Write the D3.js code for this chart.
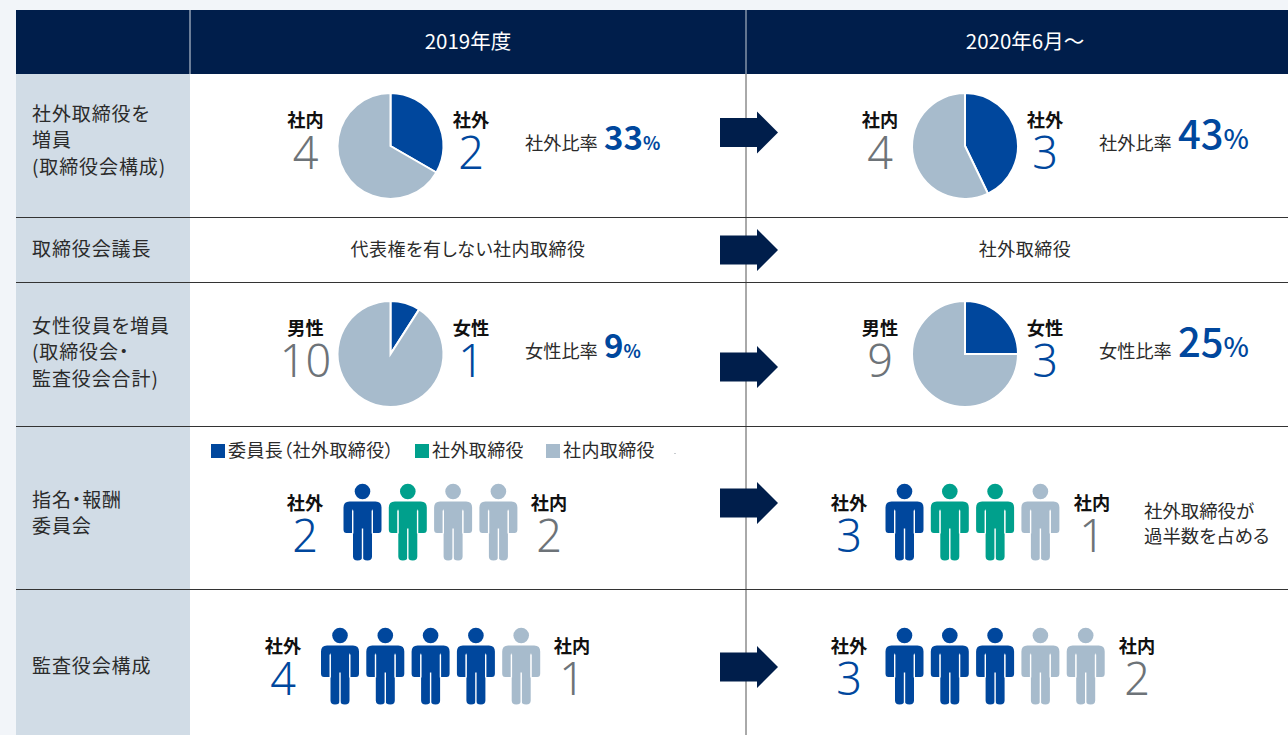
<!DOCTYPE html>
<html>
<head>
<meta charset="utf-8">
<script src="https://cdn.jsdelivr.net/npm/d3@7"></script>
<style>
html, body { margin: 0; padding: 0; background: #f2f5f9; overflow: hidden; }
svg { display: block; }
text { font-family: "Noto Sans CJK JP", "Noto Sans", sans-serif; font-feature-settings: "palt"; fill: #231815; }
.num { font-family: "Noto Sans", sans-serif; font-weight: 300; }
</style>
</head>
<body>
<svg id="chart" width="1288" height="735"></svg>
<script>
// data
const headers = ['2019年度', '2020年6月〜']
const rowLabels = [
    ['社外取締役を', '増員', '(取締役会構成)'],
    ['取締役会議長'],
    ['女性役員を増員', '(取締役会・', '監査役会合計)'],
    ['指名・報酬', '委員会'],
    ['監査役会構成']
]
const chairText = ['代表権を有しない社内取締役', '社外取締役']
const legendLabels = ['委員長（社外取締役）', '社外取締役', '社内取締役']
const boardLabels = ['社外', '社内']
const boardValues = [[2, 4], [3, 4]]
const boardRatio = ['33', '43']
const genderLabels = ['女性', '男性']
const genderValues = [[1, 10], [3, 9]]
const genderRatio = ['9', '25']
// c = chair, o = outside, i = inside
const nominating = [['c', 'o', 'i', 'i'], ['c', 'o', 'o', 'i']]
const nominatingCounts = [[2, 2], [3, 1]]
const audit = [['c', 'c', 'c', 'c', 'i'], ['c', 'c', 'c', 'i', 'i']]
const auditCounts = [[4, 1], [3, 2]]
const noteLines = ['社外取締役が', '過半数を占める']

const navy = '#001e4b', blue = '#00479d', pale = '#a7bbcc', teal = '#00a08c', grey = '#6d7378'
const personColor = { c: blue, o: teal, i: pale }

const svg = d3.select('#chart')

// table frame
const rowEdges = [74, 217, 282, 426, 589, 735]
svg.append('rect').attr('x', 16).attr('y', 74).attr('width', 1272).attr('height', 661).attr('fill', '#fff')
svg.append('rect').attr('x', 16).attr('y', 74).attr('width', 174).attr('height', 661).attr('fill', '#d1dce6')
svg.append('rect').attr('x', 16).attr('y', 10).attr('width', 1272).attr('height', 64).attr('fill', navy)
svg.append('line').attr('x1', 190).attr('x2', 190).attr('y1', 10).attr('y2', 74).attr('stroke', '#d8dee6').attr('stroke-width', 1)
svg.append('line').attr('x1', 746).attr('x2', 746).attr('y1', 10).attr('y2', 74).attr('stroke', '#c4ccd6').attr('stroke-width', 1)
svg.append('line').attr('x1', 746).attr('x2', 746).attr('y1', 74).attr('y2', 735).attr('stroke', '#555').attr('stroke-width', 1)
svg.selectAll('line.row')
    .data(rowEdges.slice(1, 5))
    .enter()
    .append('line')
    .attr('class', 'row')
    .attr('x1', 16).attr('x2', 1288)
    .attr('y1', d => d + 0.5).attr('y2', d => d + 0.5)
    .attr('stroke', '#333').attr('stroke-width', 1)

function label(x, y, str, size, opts = {}) {
    return svg.append('text')
        .attr('x', x).attr('y', y)
        .attr('dy', '0.36em')
        .attr('text-anchor', opts.anchor || 'middle')
        .attr('font-size', size)
        .attr('font-weight', opts.weight || 400)
        .attr('letter-spacing', opts.spacing || 0)
        .attr('class', opts.cls || null)
        .style('fill', opts.color || null)
        .text(str)
}

// header
label(468, 42, headers[0], 20.5, { color: '#fff' })
label(1025, 42, headers[1], 20.5, { color: '#fff' })

// row labels
const labelTops = [114, 249, 326, 500, 666]
rowLabels.forEach((lines, i) => {
    lines.forEach((line, j) => label(32, labelTops[i] + j * 26.5, line, 19, { anchor: 'start', color: '#2b2b2b', spacing: 0.9 }))
})

// arrows, one per row
const arrowY = [132.5, 250, 367, 503, 667]
svg.selectAll('path.arrow')
    .data(arrowY)
    .enter()
    .append('path')
    .attr('class', 'arrow')
    .attr('transform', d => `translate(720,${d})`)
    .attr('d', 'M0 -14.5H37V-21L58 0L37 21V14.5H0Z')
    .attr('fill', navy)

const pie = d3.pie().sort(null).value(d => d)
const arc = d3.arc().innerRadius(0).outerRadius(53)

function drawPie(cx, cy, values) {
    svg.append('g')
        .attr('transform', `translate(${cx},${cy})`)
        .selectAll('path')
        .data(pie(values))
        .enter()
        .append('path')
        .attr('d', arc)
        .attr('fill', (d, i) => i == 0 ? blue : pale)
        .attr('stroke', '#fff')
        .attr('stroke-width', 2)
}

function countLabel(x, y, name, value, color) {
    label(x, y, name, 18.2, { weight: 700, color: '#111' })
    label(x, y + 32.5, value, 45, { cls: 'num', color: color })
}

// pie rows
function pieRow(cy, labels, values, ratios, ratioName) {
    const xs = [{ pie: 390.5, inn: 305.5, out: 471, txt: 525 }, { pie: 965, inn: 880, out: 1045, txt: 1099 }]
    xs.forEach((p, k) => {
        drawPie(p.pie, cy, values[k])
        countLabel(p.inn, cy - 26, labels[1], values[k][1], grey)
        countLabel(p.out, cy - 26, labels[0], values[k][0], blue)
        label(p.txt, cy - 3, ratioName, 18.2, { anchor: 'start', color: '#2b2b2b' })
        const big = k == 0 ? 33 : 40
        const small = k == 0 ? 18 : 27
        const t = svg.append('text')
            .attr('x', p.txt + 79).attr('y', k == 0 ? cy - 2 : cy - 3)
            .attr('dy', '0.36em')
            .attr('font-weight', k == 0 ? 700 : 500)
            .attr('font-family', '"Noto Sans"')
            .style('fill', blue)
        t.append('tspan').attr('font-size', big).text(ratios[k])
        t.append('tspan').attr('font-size', small).text('%')
    })
}
pieRow(146, boardLabels, boardValues, boardRatio, '社外比率')
pieRow(354, genderLabels, genderValues, genderRatio, '女性比率')

// chair row
label(468, 250, chairText[0], 18, { color: '#2b2b2b', spacing: 0.5 })
label(1025, 250, chairText[1], 18, { color: '#2b2b2b', spacing: 0.5 })

// legend
const legendX = [211, 415, 546]
legendLabels.forEach((name, i) => {
    svg.append('rect').attr('x', legendX[i]).attr('y', 444).attr('width', 14).attr('height', 14)
        .attr('fill', [blue, teal, pale][i])
    label(legendX[i] + 17, 451, name, 18, { anchor: 'start', color: '#2b2b2b', spacing: 0.4 })
})
svg.append('rect').attr('x', 674).attr('y', 453).attr('width', 2).attr('height', 1).attr('fill', '#c8ccd0')

// person figures
const personPath = 'M-19 24Q-19 18 -13 18H13Q19 18 19 24V46Q19 49.5 16 49.5Q13.5 49.5 10 49.5'
    + 'V26H9.5V73Q9.5 77 5 77Q0 77 0 73Q0 77 -5 77Q-9.5 77 -9.5 73V26H-10V49.5Q-13.5 49.5 -16 49.5Q-19 49.5 -19 46Z'

function drawPeople(x0, top, list) {
    const x = d3.scalePoint().domain(d3.range(list.length)).range([x0, x0 + 45.3 * (list.length - 1)])
    const g = svg.append('g').selectAll('g')
        .data(list)
        .enter()
        .append('g')
        .attr('transform', (d, i) => `translate(${x(i)},${top})`)
    g.append('circle').attr('cy', 8).attr('r', 7.8).attr('fill', d => personColor[d])
    g.append('path').attr('d', personPath).attr('fill', d => personColor[d])
    // thin slits between arm/torso and the legs
    g.selectAll('line')
        .data([[-9.8, 27, -9.8, 50], [9.8, 27, 9.8, 50], [0, 45, 0, 77]])
        .enter()
        .append('line')
        .attr('x1', d => d[0]).attr('y1', d => d[1]).attr('x2', d => d[2]).attr('y2', d => d[3])
        .attr('stroke', '#fff').attr('stroke-width', 1.4)
}

drawPeople(362.5, 483.5, nominating[0])
drawPeople(904.5, 483.5, nominating[1])
drawPeople(340, 627.5, audit[0])
drawPeople(904.5, 627.5, audit[1])

countLabel(305, 503, boardLabels[0], nominatingCounts[0][0], blue)
countLabel(549, 503, boardLabels[1], nominatingCounts[0][1], grey)
countLabel(849, 503, boardLabels[0], nominatingCounts[1][0], blue)
countLabel(1092, 503, boardLabels[1], nominatingCounts[1][1], grey)
countLabel(283, 646, boardLabels[0], auditCounts[0][0], blue)
countLabel(572, 646, boardLabels[1], auditCounts[0][1], grey)
countLabel(849, 646, boardLabels[0], auditCounts[1][0], blue)
countLabel(1137, 646, boardLabels[1], auditCounts[1][1], grey)

noteLines.forEach((line, i) => label(1144, 511 + i * 25, line, 18.4, { anchor: 'start', color: '#2b2b2b' }))
</script>
</body>
</html>
